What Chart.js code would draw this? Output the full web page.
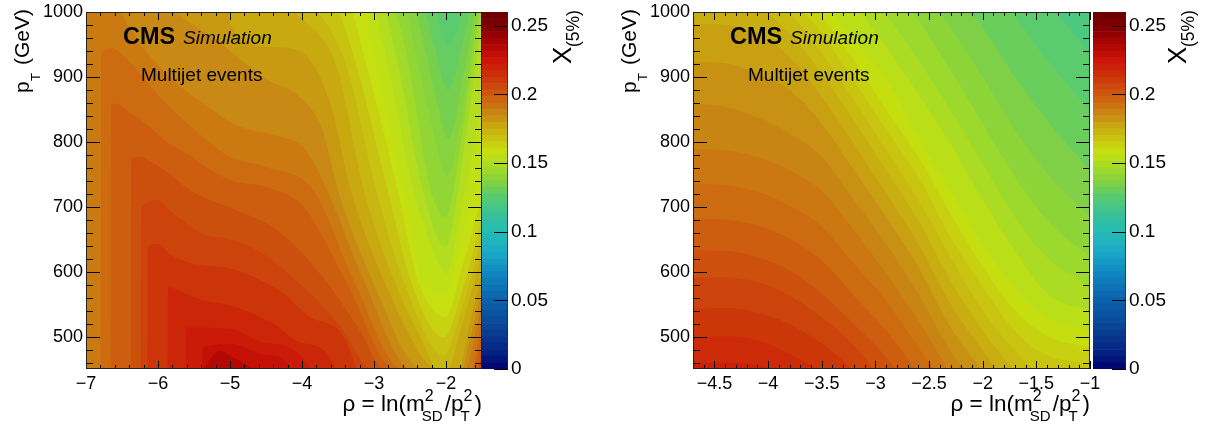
<!DOCTYPE html>
<html><head><meta charset="utf-8">
<script src="https://cdn.jsdelivr.net/npm/chart.js@4/dist/chart.umd.min.js"></script>
<style>
html,body{margin:0;padding:0;background:#fff;width:1213px;height:426px;overflow:hidden}
canvas{position:absolute;top:0}
.t{position:absolute;white-space:nowrap;line-height:1;font-family:"Liberation Sans",Arial,sans-serif;color:#000}
.r{transform:rotate(-90deg);transform-origin:0 0}
.ss{display:inline-block;position:relative;width:23px;height:0;margin-left:-3px;vertical-align:baseline}
.ss i{position:absolute;font-style:normal;left:0}
.ss .u{font-size:16px;top:-23px;left:3px}
.ss .d{font-size:15px;top:-3px}
</style></head><body>
<canvas id="c1"></canvas><canvas id="b1"></canvas><canvas id="c2"></canvas><canvas id="b2"></canvas>
<script>
// ---- contour band edges of the z axis X(5%)
const bandEdges=[0,.0047,.0095,.0142,.0189,.0236,.0284,.0331,.0378,.0425,.0473,.0520,.0567,.0615,.0662,.0709,.0756,.0804,.0851,.0898,.0945,.0993,.1040,.1087,.1135,.1182,.1229,.1276,.1324,.1371,.1418,.1465,.1513,.1560,.1607,.1655,.1702,.1749,.1796,.1844,.1891,.1938,.1985,.2033,.2080,.2127,.2175,.2222,.2269,.2316,.2364,.2411,.2458,.2505,.2553,.2600];
const zTicks=[0,0.05,0.1,0.15,0.2,0.25];
const yTicks=[500,600,700,800,900,1000];
const yMinor=[460,480,520,540,560,580,620,640,660,680,720,740,760,780,820,840,860,880,920,940,960,980];
const leftXTicks=[-7,-6,-5,-4,-3,-2];
const leftXMinor=[-6.8,-6.6,-6.4,-6.2,-5.8,-5.6,-5.4,-5.2,-4.8,-4.6,-4.4,-4.2,-3.8,-3.6,-3.4,-3.2,-2.8,-2.6,-2.4,-2.2,-1.8,-1.6];
const rightXTicks=[-4.5,-4,-3.5,-3,-2.5,-2,-1.5,-1];
const rightXMinor=[-4.6,-4.4,-4.3,-4.2,-4.1,-3.9,-3.8,-3.7,-3.6,-3.4,-3.3,-3.2,-3.1,-2.9,-2.8,-2.7,-2.6,-2.4,-2.3,-2.2,-2.1,-1.9,-1.8,-1.7,-1.6,-1.4,-1.3,-1.2,-1.1];

// ---- left panel: X(5%) of each band and its iso-curve pT(rho)
const leftZ=[.126,.129,.133,.137,.141,.146,.151,.155,.158,.163,.168,.172,.176,.1805,.185,.1895,.1935,.198,.203,.2075,.2125,.2175,.2225,.228,.234];
const lRho25=[-7,-1.5], lPt25=[1200,1200];
const lRho26=[-7,-2.17,-1.97,-1.76,-1.5], lPt26=[1160,1003,946,1003,1060];
const lRho27=[-7,-2.31,-2.17,-1.97,-1.80,-1.66,-1.5], lPt27=[1160,1003,952,880,936,1003,1055];
const lRho28=[-7,-2.43,-2.31,-2.13,-1.97,-1.76,-1.59,-1.5], lPt28=[1160,1003,952,864,805,900,1003,1035];
const lRho29=[-7,-2.57,-2.41,-2.17,-1.99,-1.80,-1.55,-1.5], lPt29=[1160,1003,931,813,746,828,1003,1030];
const lRho30=[-7,-2.73,-2.55,-2.21,-2.01,-1.76,-1.5], lPt30=[1160,1003,936,725,684,823,1029];
const lRho31=[-7,-2.87,-2.68,-2.32,-2.01,-1.76,-1.5], lPt31=[1160,1003,926,725,638,782,990];
const lRho32=[-7,-3.01,-2.82,-2.45,-2.15,-2.0,-1.76,-1.5], lPt32=[1160,1003,926,725,625,597,715,859];
const lRho33=[-7,-3.15,-2.96,-2.59,-2.31,-2.01,-1.76,-1.5], lPt33=[1160,1003,916,725,586,566,664,756];
const lRho34=[-7,-3.33,-3.10,-2.67,-2.39,-2.01,-1.76,-1.5], lPt34=[1160,1003,916,725,586,530,612,715];
const lRho35=[-7,-3.52,-3.24,-2.81,-2.49,-2.03,-1.76,-1.5], lPt35=[1160,1003,916,725,586,499,576,684];
const lRho36=[-7,-3.80,-3.38,-2.97,-2.59,-2.03,-1.76,-1.5], lPt36=[1160,1003,916,725,586,471,550,653];
const lRho37=[-7,-4.17,-3.98,-3.52,-3.14,-2.72,-2.36,-2.03,-1.76,-1.5], lPt37=[1160,1003,988,916,725,586,500,437,525,627];
const lRho38=[-7,-5.01,-5.0,-4.39,-3.98,-3.61,-3.32,-2.86,-2.18,-1.85,-1.66,-1.5], lPt38=[1160,1003,982,946,936,860,725,586,450,440,525,597];
const lRho39=[-7,-5.78,-5.13,-4.54,-3.98,-3.72,-3.5,-3.02,-2.35,-1.80,-1.66,-1.5], lPt39=[1160,1003,952,900,864,820,725,586,450,445,499,571];
const lRho40=[-7,-6.54,-6.21,-5.79,-5.24,-4.96,-4.31,-3.98,-3.65,-3.14,-2.5,-1.76,-1.5], lPt40=[1120,1003,946,895,849,828,808,792,725,586,450,445,550];
const lRho41=[-6.80,-6.79,-6.64,-6.42,-6.12,-5.79,-5.38,-5.0,-4.49,-3.84,-3.28,-2.62,-1.66,-1.5], lPt41=[300,936,944,926,887,849,808,777,761,725,586,450,445,530];
const lRho42=[-6.66,-6.65,-6.61,-6.37,-6.12,-5.84,-5.61,-5.0,-4.49,-3.98,-3.39,-2.72,-1.62,-1.5], lPt42=[300,859,859,844,823,797,782,741,730,700,586,450,445,509];
const lRho43=[-6.38,-6.37,-6.23,-6.12,-5.84,-5.61,-5.38,-5.0,-4.3,-3.67,-3.2,-2.87,-1.57,-1.5], lPt43=[300,774,777,771,751,730,715,699,660,586,510,450,445,483];
const lRho44=[-6.24,-6.23,-6.0,-5.84,-5.61,-5.38,-5.0,-4.5,-4.02,-3.5,-3.02,-1.52,-1.5], lPt44=[300,699,710,694,674,658,650,625,580,520,450,445,453];
const lRho45=[-6.15,-6.14,-6.0,-5.84,-5.61,-5.38,-5.0,-4.3,-3.8,-3.25,-3.2], lPt45=[300,638,643,627,615,610,605,570,525,450,300];
const lRho46=[-5.87,-5.86,-5.61,-5.38,-5.0,-4.4,-4.0,-3.53,-3.45], lPt46=[300,576,566,556,548,520,490,450,300];
const lRho47=[-5.62,-5.61,-5.0,-4.5,-3.88,-3.8], lPt47=[300,514,512,490,450,300];
const lRho48=[-5.39,-5.38,-5.0,-4.5,-4.16,-4.1], lPt48=[300,483,489,472,450,300];
const lRho49=[-5.38,-5.14,-4.96,-4.68], lPt49=[450,478,468,450];

// ---- right panel: X(5%) of each band and its iso-curve on shared rho columns
const rightZ=[.1205,.1265,.1300,.1347,.1394,.1442,.1489,.1536,.1584,.1631,.1678,.1710,.1750,.1790,.1830,.1865,.1900,.1935,.1980,.2025,.2070,.2115,.2160,.2205];
const rRho=[-4.7,-4.4,-4.1,-3.8,-3.5,-3.2,-2.9,-2.6,-2.3,-2.0,-1.7,-1.4,-1.0];
const rPt25=[1200,1200,1200,1200,1200,1200,1200,1200,1200,1200,1200,1200,1200];
const rPt26=[1200,1200,1200,1200,1200,1200,1200,1200,1200,1200,1090,1018,936];
const rPt27=[1200,1200,1200,1200,1200,1200,1200,1200,1200,1060,993,926,849];
const rPt28=[1200,1200,1200,1200,1200,1200,1200,1200,1044,977,900,833,756];
const rPt29=[1200,1200,1200,1200,1200,1200,1200,1049,977,900,818,751,684];
const rPt30=[1200,1200,1200,1200,1200,1200,1054,988,910,828,746,679,622];
const rPt31=[1200,1200,1200,1200,1200,1080,998,926,849,766,684,622,576];
const rPt32=[1200,1200,1200,1200,1106,1018,946,874,797,710,633,566,540];
const rPt33=[1200,1200,1200,1080,1024,957,897,808,725,643,576,530,509];
const rPt34=[1200,1200,1101,1049,993,926,849,777,689,607,540,501,483];
const rPt35=[1120,1085,1070,1024,967,895,818,746,653,576,509,471,458];
const rPt36=[1080,1054,1039,998,936,864,787,710,622,540,478,437,427];
const rPt37=[1034,1024,1008,967,905,833,756,679,586,509,447,401,396];
const rPt38=[982,980,967,931,869,797,720,643,550,478,411,360,334];
const rPt39=[923,921,905,880,828,756,684,607,514,447,386,334,334];
const rPt40=[859,854,838,813,777,710,643,566,478,411,334,334,334];
const rPt41=[789,787,777,756,725,664,597,525,442,360,300,300,300];
const rPt42=[736,733,723,702,669,612,555,483,411,300,300,300,300];
const rPt43=[681,680,671,651,617,563,509,442,360,300,300,300,300];
const rPt44=[633,632,622,602,566,519,468,396,300,300,300,300,300];
const rPt45=[591,591,584,563,530,486,422,334,300,300,300,300,300];
const rPt46=[543,544,537,519,489,447,386,300,300,300,300,300,300];
const rPt47=[499,500,494,473,442,386,300,300,300,300,300,300,300];
const rPt48=[458,460,455,437,386,300,300,300,300,300,300,300,300];

const FONT='"Liberation Sans", Arial, sans-serif';
const stops=[[0,'#00006e'],[.01,'#021e80'],[.03,'#0a4494'],[.05,'#0c62ad'],[.07,'#1088c0'],[.085,'#1aaac8'],[.1,'#24bcb4'],[.112,'#38c098'],[.12,'#4cc880'],[.127,'#5ccc6c'],[.135,'#80d044'],[.143,'#98d830'],[.15,'#b0dc20'],[.157,'#c4e210'],[.165,'#c8cc10'],[.175,'#c8ae10'],[.185,'#c88a14'],[.195,'#ce6610'],[.205,'#cc4a0c'],[.215,'#cc2c08'],[.225,'#cc1408'],[.235,'#b00804'],[.245,'#8c0000'],[.26,'#660000']];
function colorAt(v){
  for(let i=1;i<stops.length;i++){ if(v<=stops[i][0]){
    const [a,ca]=stops[i-1],[b,cb]=stops[i],t=(v-a)/(b-a);
    const h=(c,p)=>parseInt(c.substr(p,2),16);
    const m=p=>Math.round(h(ca,p)+(h(cb,p)-h(ca,p))*t);
    return `rgb(${m(1)},${m(3)},${m(5)})`;
  }}
  return stops[stops.length-1][1];
}
const bandColor=k=>colorAt((bandEdges[k]+bandEdges[k+1])/2);

function curve(z,rho,pt,i){
  return {label:'X='+z,data:rho.map((x,j)=>({x,y:pt[j]})),showLine:true,pointRadius:0,borderWidth:0,cubicInterpolationMode:'monotone',fill:'start',backgroundColor:colorAt(z),order:-i};
}
const leftRhos=[lRho25,lRho26,lRho27,lRho28,lRho29,lRho30,lRho31,lRho32,lRho33,lRho34,lRho35,lRho36,lRho37,lRho38,lRho39,lRho40,lRho41,lRho42,lRho43,lRho44,lRho45,lRho46,lRho47,lRho48,lRho49];
const leftPts=[lPt25,lPt26,lPt27,lPt28,lPt29,lPt30,lPt31,lPt32,lPt33,lPt34,lPt35,lPt36,lPt37,lPt38,lPt39,lPt40,lPt41,lPt42,lPt43,lPt44,lPt45,lPt46,lPt47,lPt48,lPt49];
const leftData=leftZ.map((z,i)=>curve(z,leftRhos[i],leftPts[i],i));
const rightRows=[rPt25,rPt26,rPt27,rPt28,rPt29,rPt30,rPt31,rPt32,rPt33,rPt34,rPt35,rPt36,rPt37,rPt38,rPt39,rPt40,rPt41,rPt42,rPt43,rPt44,rPt45,rPt46,rPt47,rPt48];
const rightData=rightZ.map((z,i)=>curve(z,rRho,rightRows[i],i));

const minus=v=>String(v).replace('-','\u2212');
function rootTicks(xMajor,xMinor){return {id:'rootTicks',afterDraw(ch){
  const c=ch.ctx,a=ch.chartArea,X=ch.scales.x,Y=ch.scales.y;
  c.save();c.strokeStyle='#000';c.lineWidth=1;c.beginPath();
  const vt=(v,l)=>{const p=Math.round(X.getPixelForValue(v))+.5;c.moveTo(p,a.bottom);c.lineTo(p,a.bottom-l);c.moveTo(p,a.top);c.lineTo(p,a.top+l);};
  const hz=(v,l)=>{const p=Math.round(Y.getPixelForValue(v))+.5;c.moveTo(a.left,p);c.lineTo(a.left+l,p);c.moveTo(a.right,p);c.lineTo(a.right-l,p);};
  xMajor.forEach(v=>vt(v,8));xMinor.forEach(v=>vt(v,4));yTicks.forEach(v=>hz(v,14));yMinor.forEach(v=>hz(v,7));
  c.stroke();
  c.strokeStyle='#222';c.strokeRect(a.left+.5,a.top+.5,a.right-a.left-1,a.bottom-a.top-1);
  c.restore();
}};}

function panel(id,left,width,rmin,rmax,data,xMajor,xMinor){
  const cv=document.getElementById(id);cv.width=width+22;cv.height=426;cv.style.left=left+'px';
  return new Chart(cv,{type:'scatter',data:{datasets:data},plugins:[rootTicks(xMajor,xMinor)],options:{
    responsive:false,animation:false,events:[],
    layout:{padding:{left:0,right:21,top:12,bottom:0}},
    plugins:{legend:{display:false},tooltip:{enabled:false}},
    scales:{
      x:{type:'linear',min:rmin,max:rmax,grid:{display:false},border:{display:false},
         afterBuildTicks:s=>{s.ticks=xMajor.map(value=>({value}))},
         afterFit:s=>{s.height=57},
         ticks:{autoSkip:false,maxRotation:0,padding:-4,color:'#000',font:{family:FONT,size:18},callback:v=>minus(v)}},
      y:{type:'linear',min:450,max:1000,grid:{display:false},border:{display:false},
         afterBuildTicks:s=>{s.ticks=yTicks.map(value=>({value}))},
         afterFit:s=>{s.width=86},
         ticks:{autoSkip:false,padding:-5,color:'#000',font:{family:FONT,size:18},callback:v=>String(v)}}
    }}});
}
function colorbar(id,left,w){
  const cv=document.getElementById(id);cv.width=w+62;cv.height=426;cv.style.left=left+'px';
  const ds=bandEdges.slice(0,-1).map((e,k)=>({data:[[e,bandEdges[k+1]]],backgroundColor:bandColor(k),borderWidth:0,grouped:false,barPercentage:1,categoryPercentage:1}));
  return new Chart(cv,{type:'bar',data:{labels:['X(5%)'],datasets:ds},plugins:[{id:'zTicks',afterDraw(ch){
    const c=ch.ctx,a=ch.chartArea,Y=ch.scales.y;c.save();c.strokeStyle='#000';c.lineWidth=1;c.beginPath();
    zTicks.forEach(v=>{const p=Math.round(Y.getPixelForValue(v))+.5;c.moveTo(a.right,p);c.lineTo(a.right-14,p);});c.stroke();
    c.strokeStyle='rgba(40,40,40,.7)';c.beginPath();c.moveTo(a.right-.5,a.top);c.lineTo(a.right-.5,a.bottom);c.stroke();c.restore();
  }}],options:{responsive:false,animation:false,events:[],
    layout:{padding:{left:0,right:0,top:12,bottom:57}},
    plugins:{legend:{display:false},tooltip:{enabled:false}},
    scales:{x:{display:false},
      y:{type:'linear',position:'right',min:0,max:.26,grid:{display:false},border:{display:false},
         afterBuildTicks:s=>{s.ticks=zTicks.map(value=>({value}))},
         afterFit:s=>{s.width=62},
         ticks:{autoSkip:false,padding:-5,color:'#000',font:{family:FONT,size:19},callback:v=>String(v)}}}
  }});
}
panel('c1',0,481,-7,-1.5,leftData,leftXTicks,leftXMinor);
colorbar('b1',482,26);
panel('c2',607,482,-4.7,-1,rightData,rightXTicks,rightXMinor);
colorbar('b2',1093,33);

// ---- texts
function T(html,x,y,size,extra){const d=document.createElement('div');d.className='t';d.style.left=x+'px';d.style.top=y+'px';d.style.fontSize=size+'px';if(extra)d.style.cssText+=extra;d.innerHTML=html;document.body.appendChild(d);return d;}
[[0,481],[607,1089]].forEach(([o,rightEdge])=>{
  T('CMS',123+o,25,23.5,'font-weight:bold');
  T('Simulation',183+o,28,19,'font-style:italic');
  T('Multijet events',141+o,65,19);
  const a=T('p',11+o,93,21);a.classList.add('r');
  const b=T('T',29+o,81,13);b.classList.add('r');
  const e=T('(GeV)',11+o,65,21);e.classList.add('r');
  const t=T('\u03C1 = ln(m<span class="ss"><i class="u">2</i><i class="d">SD</i></span>/p<span class="ss" style="width:14px"><i class="u">2</i><i class="d">T</i></span>)',0,393,22.5);
  t.style.left='auto';t.style.right=(1213-rightEdge-1)+'px';
});
[[0],[615]].forEach(([o])=>{
  const x=T('X',549+o,64,26);x.classList.add('r');
  const s=T('(5%)',565+o,47,17.5);s.classList.add('r');
});
</script>
</body></html>
